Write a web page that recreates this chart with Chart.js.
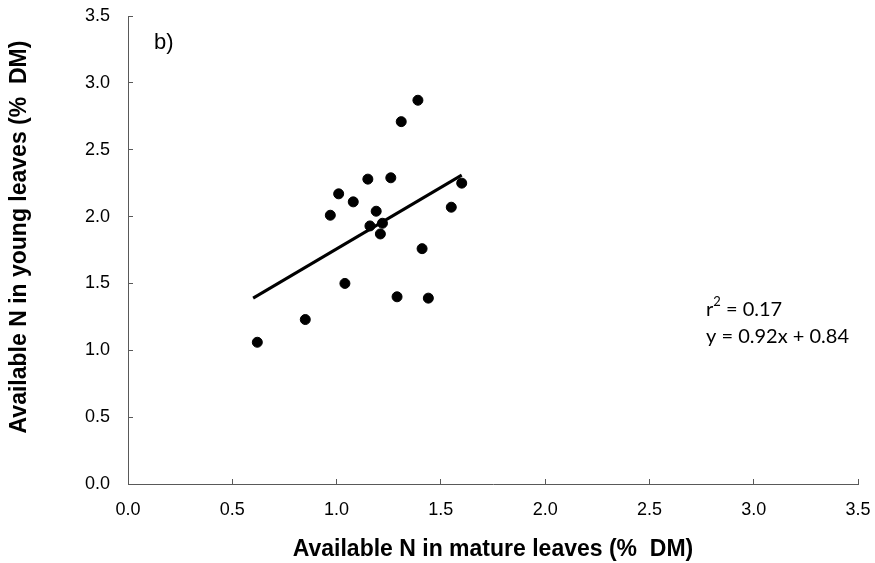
<!DOCTYPE html>
<html>
<head>
<meta charset="utf-8">
<script src="https://cdn.jsdelivr.net/npm/chart.js@4.4.1/dist/chart.umd.min.js"></script>
<style>
  html, body { margin: 0; padding: 0; background: #fff; }
  #wrap { width: 875px; height: 563px; }
</style>
</head>
<body>
<div id="wrap"><canvas id="nChart" width="875" height="563"></canvas></div>
<script>
// Available N, mature leaves (x) vs young leaves (y), % DM
const matureN = [1.39, 1.31, 1.15, 1.26, 1.60, 1.01, 1.08, 0.97, 1.19, 1.55, 1.16, 1.22, 1.21, 1.41, 1.04, 1.29, 1.44, 0.85, 0.62];
const youngN  = [2.87, 2.71, 2.28, 2.29, 2.25, 2.17, 2.11, 2.01, 2.04, 2.07, 1.93, 1.95, 1.87, 1.76, 1.50, 1.40, 1.39, 1.23, 1.06];

// regression line ends
const fitX = [0.6, 1.6];
const fitY = [1.39, 2.31];

const axisTicks = [0, 0.5, 1, 1.5, 2, 2.5, 3, 3.5];
const panelLabel = "b)";
const statLines = ["r2 = 0.17", "y = 0.92x + 0.84"];
const yTitle = "Available N in young leaves (%  DM)";
const xTitle = "Available N in mature leaves (%  DM)";

const AXIS_COLOR = "#595959";
const TITLE_FONT = "bold 23px 'Liberation Sans', Arial, sans-serif";

const points = matureN.map((x, i) => ({ x: x, y: youngN[i] }));
const fitLine = fitX.map((x, i) => ({ x: x, y: fitY[i] }));

// panel label, y title, r2 / equation text
const textPlugin = {
  id: "textPlugin",
  afterDraw(chart) {
    const ctx = chart.ctx;
    ctx.save();
    ctx.fillStyle = "#000";
    ctx.textBaseline = "middle";
    ctx.font = "22px 'Liberation Sans', Arial, sans-serif";
    ctx.fillText(panelLabel, 154, 43);

    // y axis title sits a bit above the middle of the axis in the original
    ctx.save();
    ctx.translate(20, 237);
    ctx.rotate(-Math.PI / 2);
    ctx.textAlign = "center";
    ctx.font = TITLE_FONT;
    ctx.fillText(yTitle, 0, 0);
    ctx.restore();

    const eqFont = "20px Lato, 'Open Sans', sans-serif";
    ctx.font = eqFont;
    let x = 706;
    // r with superscript 2
    ctx.fillText("r", x, 310);
    x += ctx.measureText("r").width;
    ctx.font = "13px Lato, 'Open Sans', sans-serif";
    ctx.fillText("2", x, 302);
    x += ctx.measureText("2").width;
    ctx.font = eqFont;
    ctx.fillText(statLines[0].slice(2), x, 310);
    ctx.fillText(statLines[1], 706, 337);
    ctx.restore();
  }
};

const tickOpts = {
  color: "#000",
  font: { family: "'Liberation Sans', Arial, sans-serif", size: 18 },
  callback: (v) => v.toFixed(1)
};

// fixed box sizes so the plot area lands where the original one is
function fixX(scale) {
  scale.height = 79;
  scale.paddingLeft = 0;
  scale.paddingRight = 0;
}
function fixY(scale) {
  scale.width = 128;
  scale.paddingTop = 0;
  scale.paddingBottom = 0;
}

new Chart(document.getElementById("nChart").getContext("2d"), {
  type: "scatter",
  data: {
    datasets: [
      {
        label: "data",
        data: points,
        backgroundColor: "#000",
        borderColor: "#000",
        pointRadius: 5,
        pointHoverRadius: 5
      },
      {
        label: "fit",
        type: "line",
        data: fitLine,
        borderColor: "#000",
        borderWidth: 3,
        pointRadius: 0,
        fill: false
      }
    ]
  },
  options: {
    responsive: false,
    animation: false,
    layout: { padding: { top: 16, right: 17, left: 0, bottom: 0 } },
    plugins: {
      legend: { display: false },
      tooltip: { enabled: false }
    },
    scales: {
      x: {
        type: "linear",
        min: 0,
        max: 3.5,
        afterBuildTicks: (scale) => { scale.ticks = axisTicks.map((v) => ({ value: v })); },
        afterFit: fixX,
        border: { color: AXIS_COLOR, width: 1 },
        grid: { drawOnChartArea: false, tickLength: -5, color: AXIS_COLOR },
        ticks: Object.assign({ padding: 20, maxRotation: 0 }, tickOpts),
        title: {
          display: true,
          text: xTitle,
          color: "#000",
          font: { family: "'Liberation Sans', Arial, sans-serif", size: 23, weight: "bold" },
          padding: { top: 0, bottom: 0 }
        }
      },
      y: {
        type: "linear",
        min: 0,
        max: 3.5,
        afterBuildTicks: (scale) => { scale.ticks = axisTicks.map((v) => ({ value: v })); },
        afterFit: fixY,
        border: { color: AXIS_COLOR, width: 1 },
        grid: { drawOnChartArea: false, tickLength: -5, color: AXIS_COLOR },
        ticks: Object.assign({ padding: 23 }, tickOpts),
        title: { display: false }
      }
    }
  },
  plugins: [textPlugin]
});
</script>
</body>
</html>
